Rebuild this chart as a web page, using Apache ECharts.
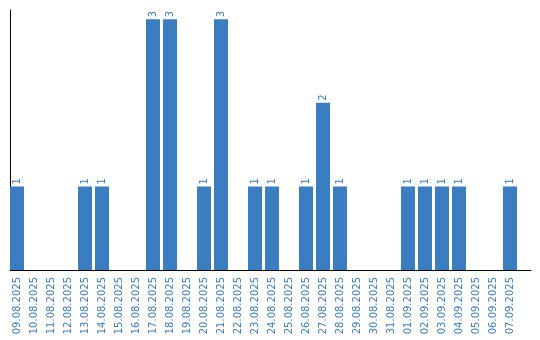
<!DOCTYPE html>
<html>
<head>
<meta charset="utf-8">
<script src="https://cdn.jsdelivr.net/npm/echarts@6/dist/echarts.min.js"></script>
<style>html,body{margin:0;padding:0;background:#fff}#c{width:540px;height:340px}</style>
</head>
<body>
<div id="c"></div>
<script>
const categories = ["09.08.2025","10.08.2025","11.08.2025","12.08.2025","13.08.2025","14.08.2025","15.08.2025","16.08.2025","17.08.2025","18.08.2025","19.08.2025","20.08.2025","21.08.2025","22.08.2025","23.08.2025","24.08.2025","25.08.2025","26.08.2025","27.08.2025","28.08.2025","29.08.2025","30.08.2025","31.08.2025","01.09.2025","02.09.2025","03.09.2025","04.09.2025","05.09.2025","06.09.2025","07.09.2025"];
const values = [1,0,0,0,1,1,0,0,3,3,0,1,3,0,1,1,0,1,2,1,0,0,0,1,1,1,1,0,0,1];

const blue = '#3b7dc1';
const chart = echarts.init(document.getElementById('c'), null, {renderer: 'canvas'});
chart.setOption({
  animation: false,
  textStyle: {fontFamily: 'DejaVu Sans'},
  grid: [
    {left: 8.5, width: 510, top: 19.3, bottom: 70, containLabel: false},
    {left: 10, right: 9, top: 10, bottom: 70, containLabel: false}
  ],
  xAxis: [
    {
      type: 'category', gridIndex: 0, data: categories,
      axisLine: {show: false}, axisTick: {show: false},
      axisLabel: {interval: 0, rotate: 90, color: blue, fontSize: 10, margin: 7, fontFamily: 'DejaVu Sans'}
    },
    {
      type: 'value', gridIndex: 1, min: 0, max: 1,
      axisLine: {show: true, onZero: false, lineStyle: {color: '#000', width: 1}},
      axisTick: {show: false}, axisLabel: {show: false}, splitLine: {show: false}
    }
  ],
  yAxis: [
    {type: 'value', gridIndex: 0, min: 0, max: 3, show: false},
    {
      type: 'value', gridIndex: 1, min: 0, max: 1,
      axisLine: {show: true, onZero: false, lineStyle: {color: '#000', width: 1}},
      axisTick: {show: false}, axisLabel: {show: false}, splitLine: {show: false}
    }
  ],
  series: [{
    type: 'bar', xAxisIndex: 0, yAxisIndex: 0,
    data: values, barWidth: 14,
    itemStyle: {color: blue},
    label: {
      show: true, position: 'top', rotate: 90, align: 'left', verticalAlign: 'middle',
      distance: 2, color: blue, fontSize: 10, fontFamily: 'DejaVu Sans',
      formatter: p => p.value ? String(p.value) : ''
    }
  }]
});
</script>
</body>
</html>
